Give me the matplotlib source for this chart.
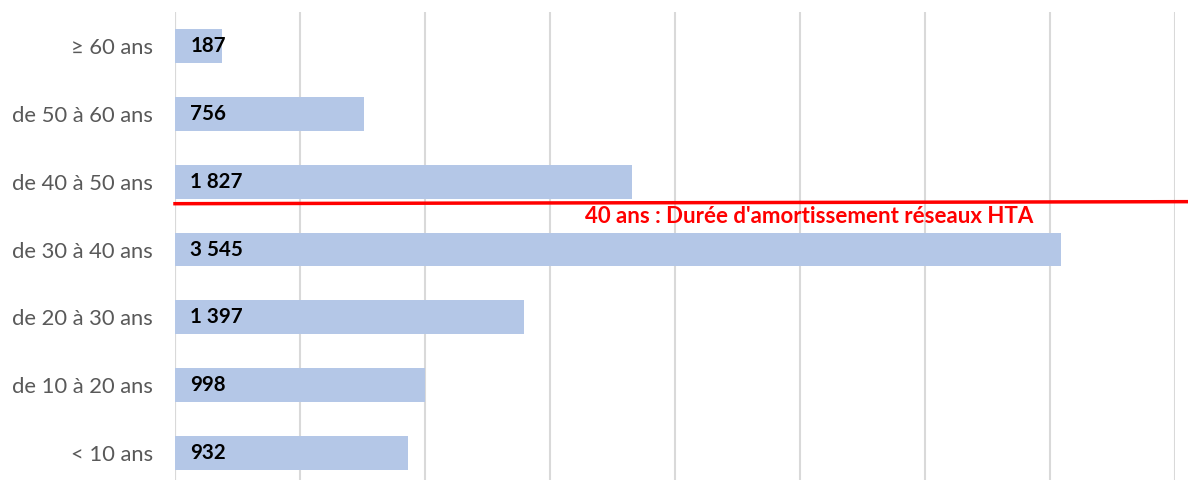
import matplotlib

matplotlib.use("Agg")
import matplotlib.pyplot as plt

# Tranches d'âge (du bas vers le haut) et longueurs correspondantes.
tranches = ["< 10 ans", "de 10 à 20 ans", "de 20 à 30 ans", "de 30 à 40 ans",
            "de 40 à 50 ans", "de 50 à 60 ans", "≥ 60 ans"]
valeurs = [932, 998, 1397, 3545, 1827, 756, 187]

# Seuil d'amortissement (position entre deux tranches) et son libellé.
seuil_y = 3.69
libelle_seuil = "40 ans : Durée d'amortissement réseaux HTA"

COULEUR_BARRE = "#b4c7e7"
COULEUR_GRILLE = "#d9d9d9"

plt.rcParams["font.family"] = ["Lato", "DejaVu Sans"]

fig = plt.figure(figsize=(11.88, 4.80), dpi=100)
ax = fig.add_axes([175 / 1188, -7 / 480, 1000 / 1188, 475 / 480])

pos = list(range(len(tranches)))
ax.barh(pos, valeurs, height=0.5, color=COULEUR_BARRE, zorder=2)

for y, v in zip(pos, valeurs):
    texte = f"{v:,}".replace(",", " ")
    ax.annotate(texte, xy=(0, y), xytext=(11, 0), textcoords="offset points",
                ha="left", va="center", fontsize=14.8, fontweight="bold",
                color="black", zorder=3)

ax.set_xlim(0, 4000)
ax.set_ylim(-0.5, 6.5)
ax.set_xticks(range(0, 4001, 500))
ax.set_xticklabels([])
ax.tick_params(axis="x", length=0)
ax.set_yticks(pos)
ax.set_yticklabels(tranches, fontsize=15.8, color="#595959")
ax.tick_params(axis="y", length=0, pad=16)
ax.grid(axis="x", color=COULEUR_GRILLE, linewidth=1.5, zorder=0)
for cote in ["top", "right", "bottom", "left"]:
    ax.spines[cote].set_visible(False)
ax.axvline(0, color=COULEUR_GRILLE, linewidth=1.5, zorder=1)

# Ligne rouge du seuil, prolongée jusqu'au bord droit de la figure.
ax.plot([0, 4000 * 1013 / 1000], [seuil_y - 0.015, seuil_y + 0.015],
        color="red", linewidth=2.5, clip_on=False, zorder=4)
ax.text(1640, seuil_y - 0.205, libelle_seuil, color="red", fontsize=16,
        fontweight="bold", ha="left", va="center", zorder=4)

fig.savefig("out.png", dpi=100)
